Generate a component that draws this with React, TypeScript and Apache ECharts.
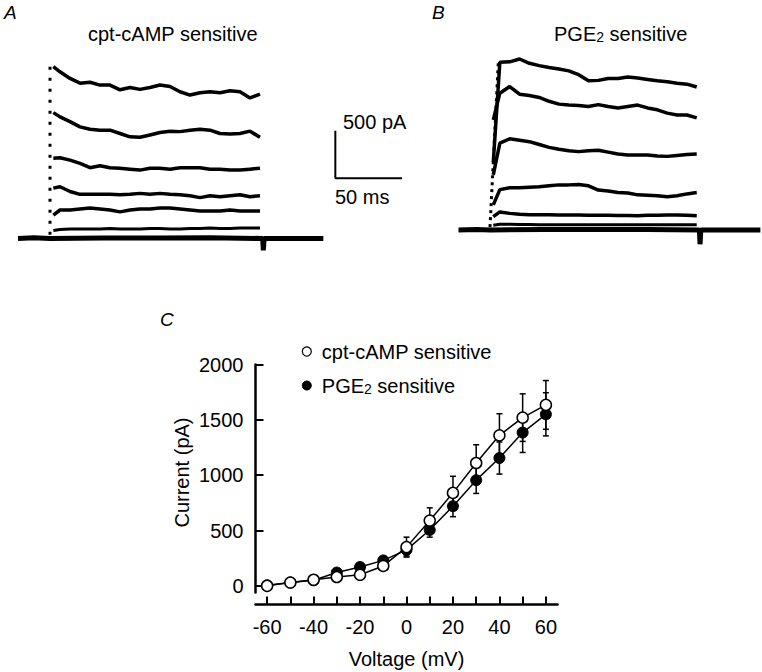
import React, { useEffect, useRef } from 'react';
import * as echarts from 'echarts';

// ---------- Panels A & B: current traces (time in ms, current in pA) ----------
const TRACE_T = [2.5, 7.5, 15, 22.5, 30, 37.5, 45, 52.5, 60, 67.5, 75, 82.5, 90, 97.5, 105, 112.5, 120, 127.5, 135, 142.5, 150, 157.5];

const A_TRACE_1 = [1810, 1755, 1685, 1635, 1645, 1615, 1615, 1565, 1590, 1570, 1590, 1615, 1600, 1545, 1510, 1535, 1545, 1535, 1555, 1545, 1480, 1520];
const A_TRACE_2 = [1325, 1280, 1230, 1175, 1150, 1140, 1140, 1105, 1070, 1065, 1090, 1115, 1130, 1125, 1140, 1150, 1140, 1105, 1100, 1105, 1130, 1065];
const A_TRACE_3 = [845, 850, 825, 790, 745, 765, 745, 740, 730, 720, 740, 740, 730, 745, 745, 745, 730, 730, 720, 720, 730, 740];
const A_TRACE_4 = [530, 545, 495, 465, 465, 465, 465, 460, 465, 475, 465, 475, 465, 460, 450, 430, 450, 440, 450, 460, 440, 450];
const A_TRACE_5 = [245, 300, 300, 310, 320, 310, 300, 280, 300, 310, 310, 320, 320, 310, 300, 290, 290, 290, 300, 290, 290, 290];
const A_TRACE_6 = [85, 95, 100, 100, 100, 100, 105, 100, 100, 100, 105, 105, 100, 100, 105, 105, 110, 105, 105, 110, 110, 110];
const A_BASE_T = [-24, -12, 0, 40, 80, 120, 159.5, 160, 160.6, 180, 205];
const A_BASE_I = [0, 8, 0, 5, 5, 8, 0, -125, 0, 0, 0];
const A_RISE_T = [0, 0];
const A_RISE_I = [40, 1830];

const B_TRACE_1 = [715, 1765, 1770, 1800, 1755, 1730, 1710, 1695, 1675, 1635, 1570, 1575, 1595, 1595, 1610, 1600, 1585, 1570, 1560, 1545, 1535, 1505];
const B_TRACE_2 = [1160, 1440, 1510, 1430, 1415, 1395, 1355, 1325, 1315, 1310, 1300, 1320, 1300, 1285, 1300, 1315, 1285, 1265, 1230, 1210, 1210, 1180];
const B_TRACE_3 = [580, 915, 960, 945, 930, 900, 870, 850, 835, 825, 835, 840, 820, 800, 790, 790, 790, 780, 775, 785, 795, 800];
const B_TRACE_4 = [265, 425, 445, 445, 450, 455, 465, 475, 475, 480, 465, 420, 410, 395, 390, 370, 365, 360, 350, 360, 380, 395];
const B_TRACE_5 = [140, 190, 175, 165, 160, 160, 160, 158, 158, 158, 155, 155, 155, 152, 152, 150, 155, 155, 158, 158, 155, 150];
const B_TRACE_6 = [50, 60, 60, 58, 58, 55, 55, 55, 55, 55, 55, 55, 55, 55, 55, 55, 55, 55, 55, 55, 55, 55];
const B_BASE_T = [-24, -10, 0, 40, 80, 120, 159.5, 160, 160.6, 180, 206];
const B_BASE_I = [0, 5, 0, 5, 5, 5, 0, -150, 0, 0, 0];
const B_RISE_T = [0, 6.3];
const B_RISE_I = [30, 1760];

// scale bar (drawn in panel A's coordinates)
const SCALE_T0 = 214;
const SCALE_I0 = 635;
const SCALE_MS = 50;
const SCALE_PA = 500;

// ---------- Panel C: I-V relation ----------
const VOLTAGES = [-60, -50, -40, -30, -20, -10, 0, 10, 20, 30, 40, 50, 60];
const CPT_MEAN = [0, 30, 55, 80, 100, 180, 350, 590, 840, 1110, 1360, 1520, 1635];
const CPT_SEM = [10, 10, 12, 15, 20, 30, 90, 115, 150, 165, 195, 215, 220];
const PGE_MEAN = [5, 30, 50, 120, 170, 230, 325, 505, 720, 955, 1155, 1385, 1550];
const PGE_SEM = [10, 10, 12, 15, 20, 25, 55, 65, 95, 120, 145, 180, 195];
const X_TICKS = [-60, -50, -40, -30, -20, -10, 0, 10, 20, 30, 40, 50, 60];
const X_LABELS = [-60, -40, -20, 0, 20, 40, 60];
const Y_TICKS = [0, 500, 1000, 1500, 2000];

const FONT = '"Liberation Sans", Arial, Helvetica, sans-serif';

const pairs = (xs: number[], ys: number[]) => xs.map((x, i) => [x, ys[i]]);

const traceSeries = (idx: number, ys: number[], width = 3.5) => ({
  type: 'line',
  xAxisIndex: idx,
  yAxisIndex: idx,
  data: pairs(TRACE_T, ys),
  showSymbol: false,
  silent: true,
  lineStyle: { color: '#000', width },
  z: 2,
});

const errorBarSeries = (means: number[], sems: number[]) => ({
  type: 'custom',
  xAxisIndex: 2,
  yAxisIndex: 2,
  silent: true,
  z: 2,
  data: VOLTAGES.map((v, i) => [v, means[i], sems[i]]),
  renderItem: (params: any, api: any) => {
    const x = api.value(0);
    const y = api.value(1);
    const e = api.value(2);
    const top = api.coord([x, y + e]);
    const bot = api.coord([x, y - e]);
    const w = 3;
    const st = { stroke: '#000', lineWidth: 1.5 };
    return {
      type: 'group',
      children: [
        { type: 'line', shape: { x1: top[0], y1: top[1], x2: bot[0], y2: bot[1] }, style: st },
        { type: 'line', shape: { x1: top[0] - w, y1: top[1], x2: top[0] + w, y2: top[1] }, style: st },
        { type: 'line', shape: { x1: bot[0] - w, y1: bot[1], x2: bot[0] + w, y2: bot[1] }, style: st },
      ],
    };
  },
});

const subRich = {
  t: { fontSize: 20, fontFamily: FONT, color: '#000', fill: '#000' },
  s: { fontSize: 14, lineHeight: 14, fontFamily: FONT, color: '#000', fill: '#000', verticalAlign: 'bottom', padding: [9, 0, 0, 0] },
};

export default function App() {
  const ref = useRef<HTMLDivElement>(null);

  useEffect(() => {
    if (!ref.current) return;
    const chart = echarts.init(ref.current, undefined, { renderer: 'svg' });

    const hidden = { show: false };

    const option: any = {
      animation: false,
      backgroundColor: '#fff',
      grid: [
        { left: 18, top: 48.5, width: 392, height: 209 },
        { left: 458.5, top: 40, width: 301.9, height: 209 },
        { left: 255.5, top: 364.5, width: 302, height: 228 },
      ],
      xAxis: [
        { type: 'value', gridIndex: 0, min: -24, max: 270, ...hidden },
        { type: 'value', gridIndex: 1, min: -24, max: 206, ...hidden },
        {
          type: 'value',
          gridIndex: 2,
          min: -65,
          max: 65,
          offset: 12,
          name: 'Voltage (mV)',
          nameLocation: 'middle',
          nameGap: 44,
          nameTextStyle: { fontSize: 20, fontFamily: FONT, color: '#000' },
          axisLine: { onZero: false, lineStyle: { color: '#000', width: 2.5 } },
          axisTick: { inside: true, length: 8, customValues: X_TICKS, lineStyle: { color: '#000', width: 2 } },
          axisLabel: { customValues: X_LABELS, formatter: (v: number) => String(v), fontSize: 20, fontFamily: FONT, color: '#000', margin: 12 },
          splitLine: { show: false },
        },
      ],
      yAxis: [
        { type: 'value', gridIndex: 0, min: -200, max: 2000, ...hidden },
        { type: 'value', gridIndex: 1, min: -200, max: 2000, ...hidden },
        {
          type: 'value',
          gridIndex: 2,
          min: -60,
          max: 2000,
          name: 'Current (pA)',
          nameLocation: 'middle',
          nameRotate: 90,
          nameGap: 64,
          nameTextStyle: { fontSize: 20, fontFamily: FONT, color: '#000', padding: [0, 0, 0, 12] },
          axisLine: { onZero: false, lineStyle: { color: '#000', width: 2.5 } },
          axisTick: { inside: true, length: 8, customValues: Y_TICKS, lineStyle: { color: '#000', width: 2 } },
          axisLabel: { customValues: Y_TICKS, formatter: (v: number) => String(v), fontSize: 20, fontFamily: FONT, color: '#000', margin: 12 },
          splitLine: { show: false },
        },
      ],
      legend: {
        orient: 'vertical',
        left: 301.7,
        top: 341.5,
        padding: 0,
        itemWidth: 20,
        itemHeight: 9,
        itemGap: 11,
        selectedMode: false,
        textStyle: { fontSize: 20, fontFamily: FONT, color: '#000', rich: subRich },
        formatter: (name: string) =>
          name === 'PGE2 sensitive' ? '{t|PGE}{s|2}{t| sensitive}' : '{t|' + name + '}',
        data: [
          { name: 'cpt-cAMP sensitive', icon: 'circle', itemStyle: { color: '#fff', borderColor: '#000', borderWidth: 1.2 } },
          { name: 'PGE2 sensitive', icon: 'circle', itemStyle: { color: '#000', borderColor: '#000', borderWidth: 1 } },
        ],
      },
      graphic: [
        { type: 'text', x: 4, y: 12, style: { text: 'A', fontSize: 19, fontStyle: 'italic', fontFamily: FONT, fill: '#000', verticalAlign: 'middle' } },
        { type: 'text', x: 432, y: 12, style: { text: 'B', fontSize: 19, fontStyle: 'italic', fontFamily: FONT, fill: '#000', verticalAlign: 'middle' } },
        { type: 'text', x: 160, y: 319, style: { text: 'C', fontSize: 19, fontStyle: 'italic', fontFamily: FONT, fill: '#000', verticalAlign: 'middle' } },
        { type: 'text', x: 88, y: 33.5, style: { text: 'cpt-cAMP sensitive', fontSize: 20, fontFamily: FONT, fill: '#000', verticalAlign: 'middle' } },
        { type: 'text', x: 554, y: 34, style: { text: '{t|PGE}{s|2}{t| sensitive}', rich: subRich, fontSize: 20, fontFamily: FONT, fill: '#000', verticalAlign: 'middle' } },
        { type: 'text', x: 343, y: 121.5, style: { text: '500 pA', fontSize: 20, fontFamily: FONT, fill: '#000', verticalAlign: 'middle' } },
        { type: 'text', x: 335, y: 197, style: { text: '50 ms', fontSize: 20, fontFamily: FONT, fill: '#000', verticalAlign: 'middle' } },
      ],
      series: [
        // Panel A
        { type: 'line', xAxisIndex: 0, yAxisIndex: 0, data: pairs(A_BASE_T, A_BASE_I), showSymbol: false, silent: true, lineStyle: { color: '#000', width: 5 }, z: 2 },
        { type: 'line', xAxisIndex: 0, yAxisIndex: 0, data: pairs(A_RISE_T, A_RISE_I), showSymbol: false, silent: true, lineStyle: { color: '#000', width: 3, type: [3, 8] }, z: 2 },
        traceSeries(0, A_TRACE_1),
        traceSeries(0, A_TRACE_2),
        traceSeries(0, A_TRACE_3),
        traceSeries(0, A_TRACE_4),
        traceSeries(0, A_TRACE_5),
        traceSeries(0, A_TRACE_6, 3),
        {
          type: 'line', xAxisIndex: 0, yAxisIndex: 0, silent: true, showSymbol: false,
          data: [[SCALE_T0, SCALE_I0 + SCALE_PA], [SCALE_T0, SCALE_I0], [SCALE_T0 + SCALE_MS, SCALE_I0]],
          lineStyle: { color: '#000', width: 2 },
        },
        // Panel B
        { type: 'line', xAxisIndex: 1, yAxisIndex: 1, data: pairs(B_BASE_T, B_BASE_I), showSymbol: false, silent: true, lineStyle: { color: '#000', width: 5 }, z: 2 },
        { type: 'line', xAxisIndex: 1, yAxisIndex: 1, data: pairs(B_RISE_T, B_RISE_I), showSymbol: false, silent: true, lineStyle: { color: '#000', width: 3, type: [3, 4] }, z: 2 },
        traceSeries(1, B_TRACE_1),
        traceSeries(1, B_TRACE_2),
        traceSeries(1, B_TRACE_3),
        traceSeries(1, B_TRACE_4),
        traceSeries(1, B_TRACE_5),
        traceSeries(1, B_TRACE_6, 3),
        // Panel C
        errorBarSeries(CPT_MEAN, CPT_SEM),
        errorBarSeries(PGE_MEAN, PGE_SEM),
        {
          name: 'PGE2 sensitive',
          type: 'line',
          xAxisIndex: 2,
          yAxisIndex: 2,
          data: pairs(VOLTAGES, PGE_MEAN),
          symbol: 'circle',
          symbolSize: 11,
          itemStyle: { color: '#000', borderColor: '#000', borderWidth: 1 },
          lineStyle: { color: '#000', width: 1.5 },
          z: 3,
        },
        {
          name: 'cpt-cAMP sensitive',
          type: 'line',
          xAxisIndex: 2,
          yAxisIndex: 2,
          data: pairs(VOLTAGES, CPT_MEAN),
          symbol: 'circle',
          symbolSize: 11,
          itemStyle: { color: '#fff', borderColor: '#000', borderWidth: 1.5 },
          lineStyle: { color: '#000', width: 1.5 },
          z: 4,
        },
      ],
    };

    chart.setOption(option);
    return () => chart.dispose();
  }, []);

  return (
    <div
      ref={ref}
      style={{ position: 'fixed', left: 0, top: 0, width: 762, height: 672, background: '#fff' }}
    />
  );
}
